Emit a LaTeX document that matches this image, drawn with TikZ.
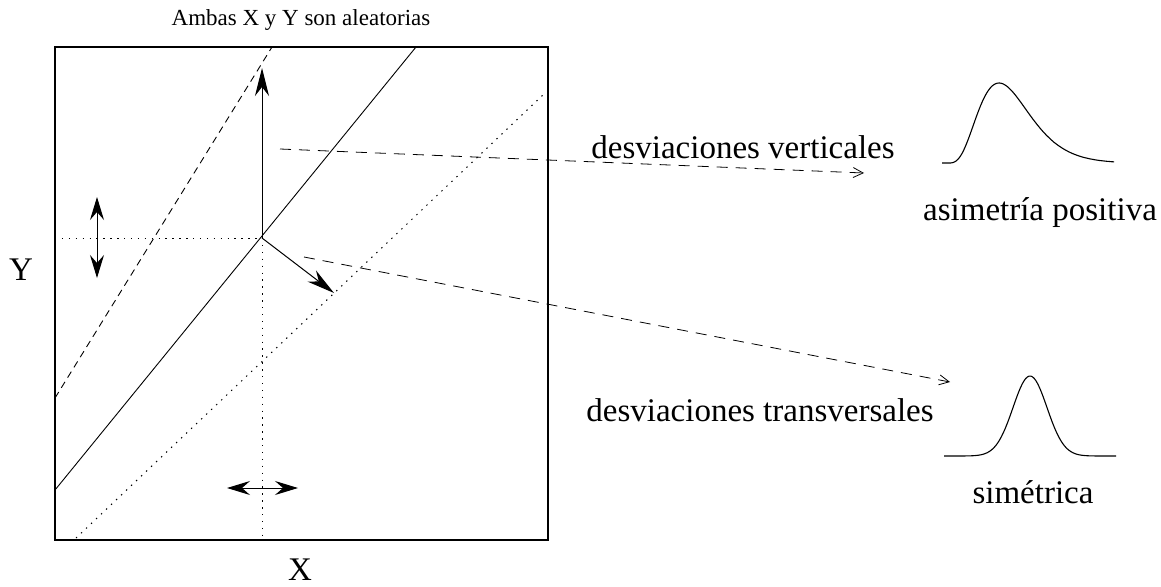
\documentclass[tikz,border=0pt]{standalone}
\usepackage{fontspec}
\setmainfont{Liberation Serif}
\usetikzlibrary{arrows.meta,positioning}

\begin{document}
\begin{tikzpicture}[x=1pt,y=-1pt,
  lab/.style={font=\fontsize{33}{40}\selectfont,inner sep=0pt,anchor=base},
  tit/.style={font=\fontsize{23}{28}\selectfont,inner sep=0pt,anchor=base},
  big/.style={-{Stealth[length=28pt,width=14pt,inset=9pt]},line width=1pt},
  bigboth/.style={{Stealth[length=23pt,width=14pt,inset=8pt]}-{Stealth[length=23pt,width=14pt,inset=8pt]},line width=1pt},
  devarrow/.style={-{Straight Barb[length=10pt,width=10pt]},dash pattern=on 11pt off 8pt,line width=0.8pt},
  dots/.style={dash pattern=on 1.4pt off 5.5pt,line width=1pt},
  curve/.style={line width=1.1pt}]
\useasboundingbox (0,0) rectangle (1161,586);
\draw[line width=1.3pt] (55,47) rectangle (548,540);
\coordinate (c) at (262,238);
\draw[line width=0.9pt] (55,490) -- (416,47);
\draw[line width=0.9pt,dash pattern=on 7pt off 5pt] (55,398) -- (272,47);
\draw[dots] (76,538) -- (544,94);
\draw[dots] (55,238) -- (c);
\draw[dots] (c) -- (262,535);
\draw[big] (c) -- (262,68);
\draw[big] (c) -- (334,293);
\draw[bigboth] (97,197) -- (97,278);
\draw[bigboth] (227,488) -- (298,488);
\coordinate (vs) at (280,149);
\coordinate (ve) at (864,173);
\coordinate (ts) at (304,257);
\coordinate (te) at (950,382);
\draw[devarrow] (vs) -- (ve);
\draw[devarrow] (ts) -- (te);
\node (title) [tit] at (301,26) {Ambas X y Y son aleatorias};
\node (ylab) [lab] at (21,280) {Y};
\node (xlab) [lab] at (300,580) {X};
\node (vert) [lab] at (743,158) {desviaciones verticales};
\node (trans) [lab] at (760,421) {desviaciones transversales};
\node (skew) [lab] at (1040,220) {asimetría positiva};
\node (sym) [lab] at (1033,503) {simétrica};
\draw[curve] (942,163) -- plot[domain=0:167,samples=90] ({947+\x},{163-80*pow(\x/52,4)*exp(4*(1-\x/52))});
\draw[curve] plot[domain=944:1116,samples=100] (\x,{456-80*exp(-1*pow((\x-1030)/24,2))});
\end{tikzpicture}
\end{document}
